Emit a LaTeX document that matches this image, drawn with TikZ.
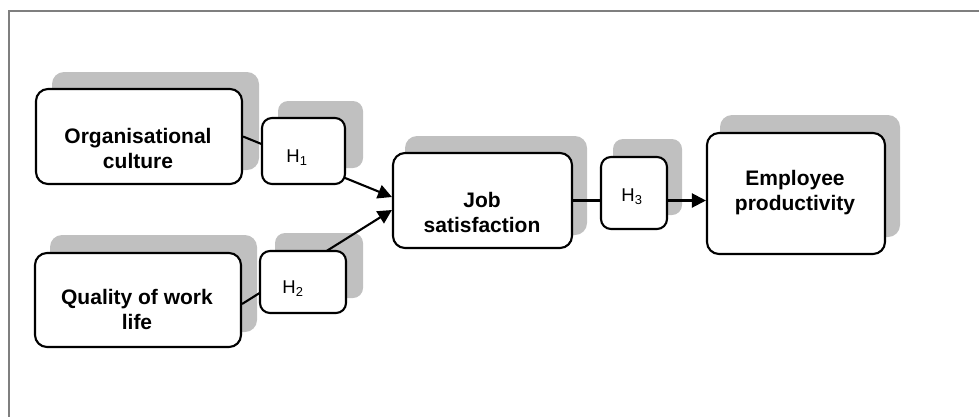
\documentclass[tikz,border=0pt]{standalone}
\usepackage{fontspec}
\setmainfont{Liberation Sans}
\usetikzlibrary{arrows.meta,calc}
\definecolor{shadowgray}{HTML}{C0C0C0}
\definecolor{framegray}{HTML}{7F7F7F}
\begin{document}
\begin{tikzpicture}[x=1pt,y=-1pt,
  shadowbox/.style={fill=shadowgray, rounded corners=12pt},
  boxnode/.style={draw=black, fill=white, line width=2.1pt, rounded corners=12pt, inner sep=0pt},
  hbox/.style={draw=black, fill=white, line width=2.1pt, rounded corners=10pt, inner sep=0pt},
  bigtxt/.style={font=\fontsize{21}{25}\selectfont\bfseries, align=center, inner sep=0pt},
  htxt/.style={font=\fontsize{18.5}{21}\selectfont, inner sep=0pt},
  conn/.style={line width=2.1pt, draw=black},
  arr/.style={conn, -{Triangle[length=14pt,width=14pt]}}]
\useasboundingbox (0,0) rectangle (979,416);
% frame
\draw[framegray, line width=2.5pt] (9,11) rectangle (1010,440);
% shadows
\fill[shadowbox] (52,72) rectangle (259,170);
\fill[shadowbox, rounded corners=10pt] (278,101) rectangle (363,168);
\fill[shadowbox] (50,235) rectangle (257,332);
\fill[shadowbox, rounded corners=10pt] (275,233) rectangle (363,298);
\fill[shadowbox] (405,136) rectangle (587,235);
\fill[shadowbox, rounded corners=10pt] (613,139) rectangle (682,215);
\fill[shadowbox] (720,115) rectangle (900,237);
% box positions
\path (139,136.5) coordinate (occ) (303.5,151) coordinate (h1c)
      (138,300) coordinate (qwc) (303,282) coordinate (h2c)
      (482.5,200.5) coordinate (jsc) (634,193) coordinate (h3c)
      (796,193.5) coordinate (epc);
\node[boxnode, minimum width=206pt, minimum height=95pt] (oc) at (occ) {};
\node[boxnode, minimum width=206pt, minimum height=94pt] (qw) at (qwc) {};
\node[boxnode, minimum width=179pt, minimum height=95pt] (js) at (jsc) {};
\node[boxnode, minimum width=178pt, minimum height=121pt] (ep) at (epc) {};
% connectors (behind hypothesis boxes)
\draw[arr] (oc.east) -- ($(js.west)+(0,-3.5)$);
\draw[arr] ($(qw.east)+(0,4)$) -- ($(js.west)+(0,9.5)$);
\draw[arr] (js.east) -- (js.east -| ep.west);
% hypothesis boxes
\node[hbox, minimum width=83pt, minimum height=66pt] (h1) at (h1c) {};
\node[hbox, minimum width=86pt, minimum height=62pt] (h2) at (h2c) {};
\node[hbox, minimum width=66pt, minimum height=72pt] (h3) at (h3c) {};
% texts
\node[bigtxt] (oct) at (138,148) {Organisational\\culture};
\node[bigtxt] (qwt) at (137,309) {Quality of work\\life};
\node[bigtxt] (jst) at (482,212) {Job\\satisfaction};
\node[bigtxt] (ept) at (795,193) {Employee\\productivity};
\node[htxt] (h1t) at (297,158) {H\textsubscript{1}};
\node[htxt] (h2t) at (293,289) {H\textsubscript{2}};
\node[htxt] (h3t) at (632,197) {H\textsubscript{3}};
\end{tikzpicture}
\end{document}
